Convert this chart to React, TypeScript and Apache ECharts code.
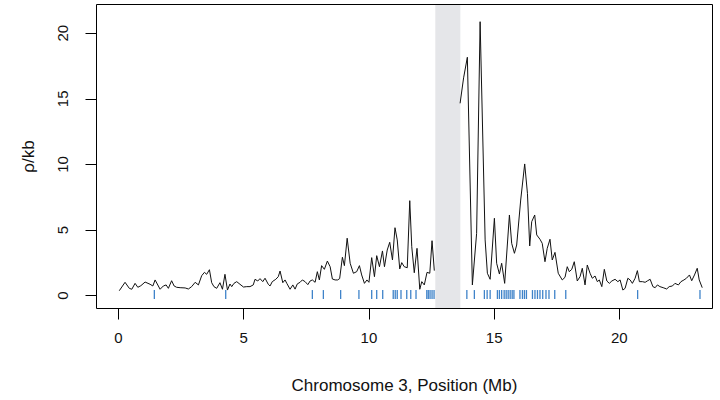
import { useEffect, useRef } from "react";
import * as echarts from "echarts";

// Recombination rate along chromosome 3 (position in Mb, rho per kb); null marks the gap
const positionsMb = [
  0.03, 0.26, 0.43, 0.53, 0.66, 0.77, 0.89, 1.06, 1.26, 1.37, 1.46, 1.66, 1.79, 1.9, 1.99,
  2.12, 2.22, 2.32, 2.46, 2.66, 2.79, 2.92, 3.06, 3.19, 3.32, 3.43, 3.52, 3.63, 3.72, 3.81,
  3.92, 4.05, 4.15, 4.25, 4.35, 4.45, 4.52, 4.61, 4.72, 4.85, 4.99, 5.12, 5.25, 5.38, 5.45,
  5.56, 5.65, 5.76, 5.85, 5.98, 6.05, 6.14, 6.28, 6.38, 6.45, 6.56, 6.65, 6.72, 6.85, 6.96,
  7.05, 7.14, 7.25, 7.34, 7.45, 7.56, 7.65, 7.74, 7.85, 7.94, 8.02, 8.11, 8.22, 8.34, 8.45,
  8.54, 8.65, 8.75, 8.83, 8.94, 9.02, 9.13, 9.25, 9.38, 9.51, 9.62, 9.71, 9.82, 9.92, 10.0,
  10.11, 10.22, 10.31, 10.42, 10.54, 10.62, 10.73, 10.83, 10.94, 11.04, 11.13, 11.23, 11.31,
  11.41, 11.53, 11.63, 11.71, 11.81, 11.92, 12.03, 12.11, 12.21, 12.32, 12.43, 12.52, 12.61,
  13.1,
  13.64, 13.78, 13.93, 14.13, 14.3, 14.44, 14.64, 14.73, 14.84, 15.01, 15.1, 15.21, 15.3,
  15.42, 15.61, 15.7, 15.81, 15.9, 16.06, 16.22, 16.33, 16.42, 16.5, 16.62, 16.7, 16.83,
  16.92, 17.03, 17.12, 17.23, 17.32, 17.43, 17.56, 17.72, 17.83, 17.92, 18.0, 18.1, 18.2,
  18.32, 18.43, 18.52, 18.63, 18.72, 18.83, 18.92, 19.03, 19.12, 19.2, 19.3, 19.4, 19.5,
  19.6, 19.7, 19.83, 19.94, 20.03, 20.14, 20.23, 20.34, 20.43, 20.52, 20.63, 20.72, 20.8,
  20.92, 21.03, 21.13, 21.23, 21.34, 21.43, 21.52, 21.62, 21.75, 21.89, 21.99, 22.12, 22.22,
  22.36, 22.46, 22.58, 22.68, 22.8, 22.89, 23.0, 23.11, 23.19, 23.31,
];

const rhoPerKb: (number | null)[] = [
  0.38, 1.02, 0.56, 0.49, 0.94, 0.64, 0.76, 1.04, 0.87, 0.74, 1.2, 0.49, 0.74, 0.82, 0.56,
  1.14, 0.74, 0.64, 0.61, 0.59, 0.51, 0.69, 1.02, 0.82, 1.52, 1.78, 1.63, 1.98, 0.99, 0.69,
  0.56, 0.99, 0.49, 1.63, 0.43, 0.89, 0.69, 0.94, 1.07, 0.87, 0.66, 0.69, 0.69, 0.82, 1.25,
  1.12, 1.3, 1.07, 1.33, 0.87, 0.74, 1.07, 1.25, 1.45, 1.88, 0.99, 1.2, 0.94, 0.49, 0.82,
  0.5, 0.9, 1.02, 1.2, 1.07, 0.84, 1.12, 1.2, 1.02, 1.83, 1.2, 2.29, 2.01, 2.64, 2.21,
  1.27, 1.2, 1.2, 1.3, 2.93, 2.29, 4.38, 2.47, 1.71, 1.83, 2.29, 1.58, 0.94, 1.2, 1.02,
  2.9, 1.45, 3.05, 2.21, 3.41, 2.21, 3.48, 4.07, 2.72, 5.18, 4.25, 2.04, 2.52,
  2.21, 2.13, 7.24, 3.73, 1.75, 3.61, 0.49, 1.07, 0.82, 1.78, 1.71, 4.19, 1.91,
  null,
  14.66, 16.6, 18.17, 0.82, 4.75, 20.88, 4.25, 1.71, 1.25, 5.9, 2.47, 1.65, 2.47,
  0.94, 6.15, 3.99, 3.23, 3.86, 7.29, 10.04, 7.8, 3.79, 5.64, 6.15, 4.63, 4.3,
  3.99, 2.59, 3.61, 4.3, 2.72, 3.3, 1.71, 1.2, 1.4, 2.21, 1.83, 2.01, 2.59,
  1.12, 1.45, 2.09, 0.82, 2.34, 1.71, 1.33, 1.5, 1.07, 1.2, 0.69, 2.01, 1.12,
  0.94, 1.12, 1.25, 1.07, 1.2, 0.43, 0.56, 1.33, 1.2, 0.94, 1.33, 1.91, 1.07,
  1.07, 1.02, 1.14, 1.25, 0.69, 0.61, 0.82, 0.69, 0.61, 0.51, 0.69, 0.74, 0.94,
  0.82, 1.07, 1.2, 1.33, 1.58, 1.14, 1.58, 2.09, 1.2, 0.61,
];

// SNP / marker positions shown as a rug (Mb)
const rugPositionsMb = [
  1.43, 4.28, 7.74, 8.18, 8.87, 9.6, 10.11, 10.31, 10.55, 10.97, 11.05, 11.13, 11.28, 11.51,
  11.67, 11.88, 12.31, 12.37, 12.44, 12.52, 12.6,
  13.91, 14.21, 14.61, 14.72, 14.84, 15.13, 15.21, 15.3, 15.4, 15.48, 15.56, 15.64, 15.72,
  15.79, 16.03, 16.13, 16.21, 16.29, 16.53, 16.63, 16.73, 16.83, 16.94, 17.07, 17.19, 17.42,
  17.86, 20.73, 23.22,
];

const gapRegionMb = [12.65, 13.65];
const xTickValues = [0, 5, 10, 15, 20];
const yTickValues = [0, 5, 10, 15, 20];

const FONT = "'Liberation Sans', Arial, Helvetica, sans-serif";

export default function App() {
  const ref = useRef<HTMLDivElement>(null);

  useEffect(() => {
    if (!ref.current) return;
    const chart = echarts.init(ref.current, null, { renderer: "svg" });

    const lineData = positionsMb.map((x, i) => [x, rhoPerKb[i] === null ? "-" : rhoPerKb[i]]);
    const rugData = rugPositionsMb.map((x) => [x, 0]);

    const gridLeft = 96.5;
    const gridTop = 4.5;
    const gridWidth = 616;
    const gridHeight = 304;

    chart.setOption({
      animation: false,
      backgroundColor: "#ffffff",
      grid: {
        left: gridLeft,
        top: gridTop,
        width: gridWidth,
        height: gridHeight,
        show: false,
        containLabel: false,
      },
      xAxis: {
        type: "value",
        min: -0.88,
        max: 23.72,
        splitLine: { show: false },
        axisLine: { show: false, onZero: false },
        axisTick: {
          show: true,
          length: 11,
          customValues: xTickValues,
          lineStyle: { color: "#000", width: 1 },
        },
        axisLabel: {
          customValues: xTickValues,
          fontSize: 15,
          margin: 21,
          color: "#111",
          fontFamily: FONT,
        },
        name: "Chromosome 3, Position (Mb)",
        nameLocation: "middle",
        nameGap: 68,
        nameTextStyle: { fontSize: 17, color: "#111", fontFamily: FONT },
      },
      yAxis: {
        type: "value",
        min: -0.976,
        max: 22.19,
        splitLine: { show: false },
        axisLine: { show: false, onZero: false },
        axisTick: {
          show: true,
          length: 11,
          customValues: yTickValues,
          lineStyle: { color: "#000", width: 1 },
        },
        axisLabel: {
          customValues: yTickValues,
          rotate: 90,
          fontSize: 15,
          margin: 27,
          color: "#111",
          fontFamily: FONT,
        },
        name: "ρ/kb",
        nameLocation: "middle",
        nameRotate: 90,
        nameGap: 60,
        nameTextStyle: { fontSize: 17, color: "#111", fontFamily: FONT },
      },
      graphic: [
        {
          type: "rect",
          z: 100,
          silent: true,
          shape: { x: gridLeft, y: gridTop, width: gridWidth, height: gridHeight },
          style: { fill: "none", stroke: "#000", lineWidth: 1 },
        },
      ],
      series: [
        {
          type: "line",
          data: lineData,
          showSymbol: false,
          symbol: "none",
          connectNulls: false,
          lineStyle: { color: "#111", width: 1 },
          z: 3,
          markArea: {
            silent: true,
            itemStyle: { color: "#e5e6e9" },
            data: [[{ xAxis: gapRegionMb[0] }, { xAxis: gapRegionMb[1] }]],
          },
        },
        {
          type: "custom",
          data: rugData,
          encode: { x: 0, y: 1 },
          z: 4,
          renderItem: (_params: any, api: any) => {
            const x = api.value(0);
            const top = api.coord([x, 0.43]);
            const bot = api.coord([x, -0.25]);
            return {
              type: "line",
              shape: { x1: top[0], y1: top[1], x2: bot[0], y2: bot[1] },
              style: { stroke: "#3f83c9", lineWidth: 1.3 },
            };
          },
        },
      ],
    });

    return () => chart.dispose();
  }, []);

  return (
    <div
      ref={ref}
      style={{ position: "absolute", left: 0, top: 0, width: 720, height: 400 }}
    />
  );
}
